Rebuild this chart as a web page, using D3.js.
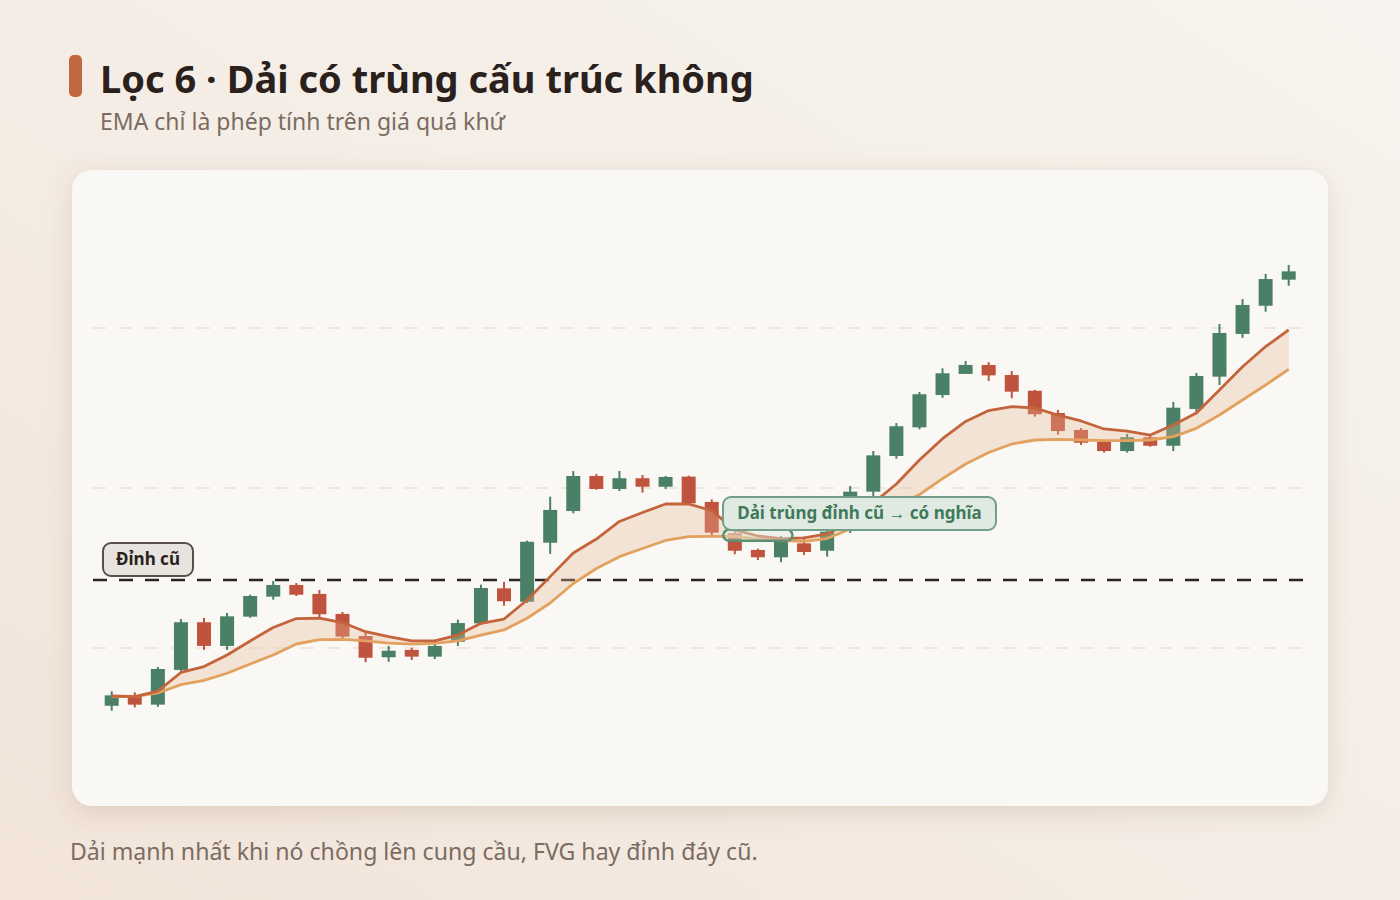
<!DOCTYPE html>
<html>
<head>
<meta charset="utf-8">
<script src="https://cdn.jsdelivr.net/npm/d3@7"></script>
<style>
  html, body { margin: 0; padding: 0; background: #f5eee7; }
  svg { display: block; }
  text { font-family: "Noto Sans", "Open Sans", sans-serif; }
</style>
</head>
<body>
<svg id="chart" width="1400" height="900"></svg>
<script>
// candles (price units)
var open  = [96.39, 96.94, 96.46, 98.63, 101.61, 100.13, 101.96, 103.21, 103.94, 103.38,
             102.13, 100.75, 99.42, 99.88, 99.46, 100.39, 101.54, 103.73, 102.89, 106.58,
             108.56, 110.75, 109.94, 110.61, 110.08, 110.71, 109.13, 107.17, 106.13, 105.67,
             106.54, 106.08, 107.31, 109.77, 112.0, 113.79, 115.81, 117.13, 117.69, 117.06,
             116.08, 114.69, 113.63, 112.89, 112.31, 113.17, 112.64, 114.94, 116.96, 119.63,
             121.39, 123.02];
var high  = [97.29, 97.23, 98.81, 101.81, 101.88, 102.19, 103.33, 104.19, 104.06, 103.63,
             102.25, 100.96, 100.13, 100.02, 100.5, 101.77, 103.96, 104.13, 106.71, 109.46,
             111.06, 110.88, 111.06, 110.81, 110.75, 110.77, 109.29, 107.38, 106.21, 107.0,
             106.96, 107.5, 110.13, 112.31, 114.06, 116.0, 117.48, 117.94, 117.86, 117.31,
             116.13, 114.88, 113.75, 113.0, 113.38, 113.31, 115.38, 117.19, 120.25, 121.81,
             123.38, 123.94];
var low   = [96.08, 96.29, 96.33, 98.56, 99.88, 99.88, 101.89, 103.02, 103.25, 101.92,
             100.56, 99.11, 99.14, 99.25, 99.31, 100.13, 101.44, 102.64, 102.81, 105.88,
             108.42, 109.89, 109.81, 109.71, 109.94, 108.94, 107.06, 105.86, 105.5, 105.36,
             105.81, 105.71, 107.19, 109.46, 111.83, 113.67, 115.64, 117.39, 116.69, 115.61,
             114.46, 113.34, 112.69, 112.21, 112.21, 112.58, 112.31, 114.67, 116.44, 119.38,
             121.02, 122.64];
var close = [97.04, 96.46, 98.69, 101.61, 100.13, 101.98, 103.25, 103.94, 103.33, 102.11,
             100.71, 99.39, 99.83, 99.46, 100.13, 101.56, 103.75, 102.92, 106.64, 108.63,
             110.75, 109.94, 110.61, 110.08, 110.69, 109.04, 107.21, 106.08, 105.67, 106.64,
             106.0, 107.27, 109.77, 112.04, 113.86, 115.86, 117.17, 117.69, 117.04, 116.02,
             114.61, 113.56, 112.83, 112.31, 113.17, 112.64, 115.02, 117.0, 119.69, 121.44,
             123.06, 123.54];

// the two EMA lines of the band
var emaFast = [97.0, 96.96, 97.31, 98.47, 98.84, 99.56, 100.44, 101.28, 101.84, 101.86,
               101.59, 101.02, 100.71, 100.44, 100.44, 100.81, 101.54, 101.81, 103.0, 104.46,
               105.94, 106.81, 107.91, 108.47, 109.0, 109.0, 108.59, 107.38, 107.0, 106.84,
               106.88, 107.13, 107.88, 109.06, 110.25, 111.75, 113.08, 114.16, 114.84, 115.09,
               115.0, 114.56, 114.19, 113.69, 113.56, 113.31, 113.94, 114.69, 116.13, 117.58,
               118.84, 119.88];
var emaSlow = [96.96, 96.96, 97.19, 97.71, 97.98, 98.42, 99.0, 99.56, 100.25, 100.52,
               100.54, 100.44, 100.31, 100.24, 100.29, 100.44, 100.81, 101.13, 101.86, 102.81,
               104.03, 104.97, 105.71, 106.22, 106.72, 106.96, 106.98, 106.97, 106.81, 106.72,
               106.66, 106.84, 107.44, 108.19, 108.88, 109.59, 110.59, 111.5, 112.22, 112.75,
               113.0, 113.04, 113.0, 112.96, 112.96, 113.0, 113.21, 113.73, 114.56, 115.5,
               116.44, 117.42];

var gridLevels = [100, 110, 120];
var oldHigh = 104.25;
// zone where the band sits on the old high (candle index / price)
var zoneIdx = [26.5, 29.5];
var zonePrice = [106.7, 107.4];

var titleText = "Lọc 6 · Dải có trùng cấu trúc không";
var subtitleText = "EMA chỉ là phép tính trên giá quá khứ";
var footerText = "Dải mạnh nhất khi nó chồng lên cung cầu, FVG hay đỉnh đáy cũ.";
var oldHighLabel = "Đỉnh cũ";
var zoneLabel = "Dải trùng đỉnh cũ → có nghĩa";

var GREEN = "#4a8066", RED = "#c0533e";

var svg = d3.select("#chart");
var svgWidth = +svg.attr("width");
var svgHeight = +svg.attr("height");

var defs = svg.append("defs");
var bg = defs.append("linearGradient").attr("id", "bg")
  .attr("x1", "0").attr("y1", "1").attr("x2", "1").attr("y2", "0");
bg.append("stop").attr("offset", "0").attr("stop-color", "#f2e4d9");
bg.append("stop").attr("offset", "0.55").attr("stop-color", "#f5eee7");
bg.append("stop").attr("offset", "1").attr("stop-color", "#f7f3ee");

var shadow = defs.append("filter").attr("id", "shadow")
  .attr("x", "-10%").attr("y", "-10%").attr("width", "120%").attr("height", "125%");
shadow.append("feDropShadow")
  .attr("dx", 0).attr("dy", 6).attr("stdDeviation", 12)
  .attr("flood-color", "#7a5a3c").attr("flood-opacity", 0.18);

svg.append("rect").attr("width", svgWidth).attr("height", svgHeight).attr("fill", "url(#bg)");

// header
svg.append("rect")
  .attr("x", 69).attr("y", 55).attr("width", 13).attr("height", 42).attr("rx", 5)
  .attr("fill", "#c2683e");
svg.append("text")
  .attr("x", 100).attr("y", 93)
  .attr("font-size", 38).attr("font-weight", 700).attr("fill", "#2a211c")
  .text(titleText);
svg.append("text")
  .attr("x", 100).attr("y", 130)
  .attr("font-size", 23).attr("fill", "#7b6b61")
  .text(subtitleText);

// card
var card = {x: 72, y: 170, w: 1256, h: 636};
svg.append("rect")
  .attr("x", card.x).attr("y", card.y).attr("width", card.w).attr("height", card.h)
  .attr("rx", 20).attr("fill", "#faf8f5").attr("filter", "url(#shadow)");

svg.append("text")
  .attr("x", 70).attr("y", 860)
  .attr("font-size", 23.1).attr("fill", "#7b6b61")
  .text(footerText);

// scales
var plot = {l: 93, r: 1303};
var x = d3.scaleLinear().domain([0, close.length - 1]).range([111.7, 1288.7]);
var y = d3.scaleLinear().domain([90, 130]).range([808, 168]);

var g = svg.append("g");

// light grid
g.selectAll("line.grid")
  .data(gridLevels)
  .enter()
  .append("line")
  .attr("class", "grid")
  .attr("x1", plot.l).attr("x2", plot.r)
  .attr("y1", function(d) { return y(d); })
  .attr("y2", function(d) { return y(d); })
  .attr("stroke", "#e9e1d7").attr("stroke-width", 1.5)
  .attr("stroke-dasharray", "13,13");

// old high
g.append("line")
  .attr("x1", plot.l).attr("x2", plot.r)
  .attr("y1", y(oldHigh)).attr("y2", y(oldHigh))
  .attr("stroke", "#2b2420").attr("stroke-width", 2.5)
  .attr("stroke-dasharray", "14,12");

// candles
var idx = d3.range(close.length);
var bodyW = 14;
var candles = g.selectAll("g.candle")
  .data(idx)
  .enter()
  .append("g")
  .attr("class", "candle")
  .attr("fill", function(i) { return close[i] >= open[i] ? GREEN : RED; })
  .attr("stroke", function(i) { return close[i] >= open[i] ? GREEN : RED; });
candles.append("line")
  .attr("x1", function(i) { return x(i); })
  .attr("x2", function(i) { return x(i); })
  .attr("y1", function(i) { return y(high[i]); })
  .attr("y2", function(i) { return y(low[i]); })
  .attr("stroke-width", 2);
candles.append("rect")
  .attr("x", function(i) { return x(i) - bodyW / 2; })
  .attr("width", bodyW)
  .attr("y", function(i) { return y(Math.max(open[i], close[i])); })
  .attr("height", function(i) { return Math.max(2, Math.abs(y(open[i]) - y(close[i]))); })
  .attr("stroke", "none");

// band between the two EMAs, laid over the candles
var band = d3.area()
  .x(function(i) { return x(i); })
  .y0(function(i) { return y(emaSlow[i]); })
  .y1(function(i) { return y(emaFast[i]); });
g.append("path")
  .datum(idx)
  .attr("d", band)
  .attr("fill", "#e8b896").attr("opacity", 0.33);

// EMA lines
var lineOf = function(arr) {
  return d3.line()
    .x(function(i) { return x(i); })
    .y(function(i) { return y(arr[i]); });
};
g.append("path").datum(idx).attr("d", lineOf(emaSlow))
  .attr("fill", "none").attr("stroke", "#e2a15e").attr("stroke-width", 2.8)
  .attr("stroke-linejoin", "round");
g.append("path").datum(idx).attr("d", lineOf(emaFast))
  .attr("fill", "none").attr("stroke", "#c4643c").attr("stroke-width", 2.8)
  .attr("stroke-linejoin", "round");

// zone highlight
g.append("rect")
  .attr("x", x(zoneIdx[0])).attr("width", x(zoneIdx[1]) - x(zoneIdx[0]))
  .attr("y", y(zonePrice[1])).attr("height", y(zonePrice[0]) - y(zonePrice[1]))
  .attr("rx", 6)
  .attr("fill", "#dce9e0").attr("fill-opacity", 0.45)
  .attr("stroke", "#5b8f72").attr("stroke-width", 2.5);

// labels
function tag(cx, cy, w, h, txt, fill, stroke, color) {
  var t = g.append("g");
  t.append("rect")
    .attr("x", cx - w / 2).attr("y", cy - h / 2).attr("width", w).attr("height", h)
    .attr("rx", 8).attr("fill", fill).attr("stroke", stroke).attr("stroke-width", 2);
  t.append("text")
    .attr("x", cx).attr("y", cy).attr("dy", "0.35em")
    .attr("text-anchor", "middle")
    .attr("font-size", 17).attr("font-weight", 700).attr("fill", color)
    .text(txt);
}
tag(148, y(oldHigh) - 20.5, 90, 33, oldHighLabel, "#e7e3de", "#5a504a", "#2a211c");
tag(859.5, 513.5, 273, 33, zoneLabel, "#e0eae3", "#72a087", "#3f7a5a");
</script>
</body>
</html>
